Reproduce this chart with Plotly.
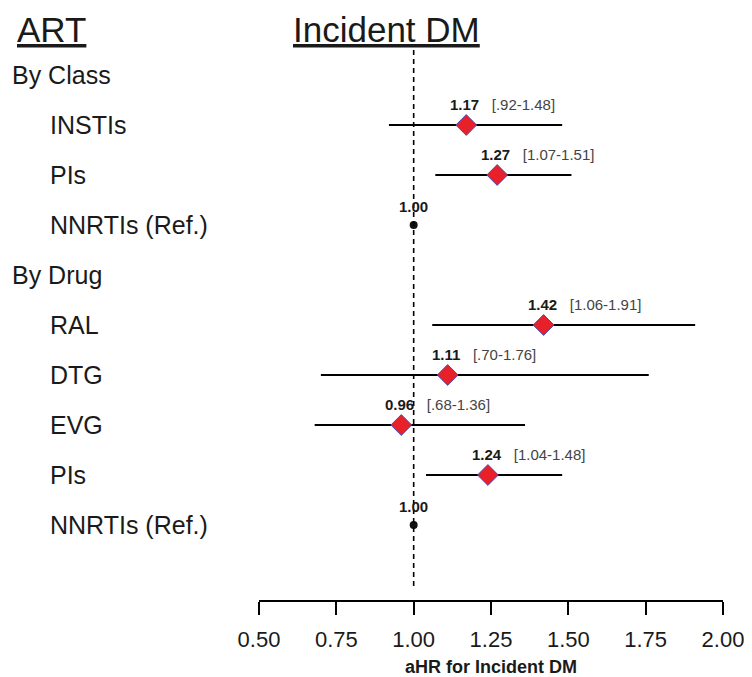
import plotly.graph_objects as go

rows = ["By Class", "INSTIs", "PIs", "NNRTIs (Ref.)", "By Drug",
        "RAL", "DTG", "EVG", "PIs", "NNRTIs (Ref.)"]
is_header = [True, False, False, False, True, False, False, False, False, False]
is_ref = [False, False, False, True, False, False, False, False, False, True]
hr = [None, 1.17, 1.27, 1.00, None, 1.42, 1.11, 0.96, 1.24, 1.00]
lo = [None, 0.92, 1.07, None, None, 1.06, 0.70, 0.68, 1.04, None]
hi = [None, 1.48, 1.51, None, None, 1.91, 1.76, 1.36, 1.48, None]
hr_lbl = ["", "1.17", "1.27", "1.00", "", "1.42", "1.11", "0.96", "1.24", "1.00"]
ci_lbl = ["", "[.92-1.48]", "[1.07-1.51]", "", "", "[1.06-1.91]",
          "[.70-1.76]", "[.68-1.36]", "[1.04-1.48]", ""]
tick_vals = [0.50, 0.75, 1.00, 1.25, 1.50, 1.75, 2.00]
tick_text = ["0.50", "0.75", "1.00", "1.25", "1.50", "1.75", "2.00"]

OFF = 8  # page body margin
W, H = 752 - OFF, 677 - OFF
ML, MR, MT = 259 - OFF, 29, 50 - OFF
PW = W - ML - MR
PH = 550
MB = H - MT - PH

ypos = [-i for i in range(len(rows))]

fig = go.Figure()

# CI lines
cx, cy = [], []
for i in range(len(rows)):
    if lo[i] is not None:
        cx += [lo[i], hi[i], None]
        cy += [ypos[i], ypos[i], None]
fig.add_trace(go.Scatter(x=cx, y=cy, mode="lines",
                         line=dict(color="black", width=1.8),
                         hoverinfo="skip", showlegend=False))

# Estimates (diamonds)
dx = [hr[i] for i in range(len(rows)) if hr[i] is not None and not is_ref[i]]
dy = [ypos[i] for i in range(len(rows)) if hr[i] is not None and not is_ref[i]]
fig.add_trace(go.Scatter(x=dx, y=dy, mode="markers",
                         marker=dict(symbol="diamond", size=16, color="#e8202a",
                                     line=dict(color="#4b4fb4", width=1)),
                         showlegend=False))

# Reference points
rx = [hr[i] for i in range(len(rows)) if is_ref[i]]
ry = [ypos[i] for i in range(len(rows)) if is_ref[i]]
fig.add_trace(go.Scatter(x=rx, y=ry, mode="markers",
                         marker=dict(symbol="circle", size=8, color="#111"),
                         showlegend=False))

# Null line
fig.add_shape(type="line", x0=1, x1=1, xref="x", yref="y", y0=0.5, y1=-10.25,
              line=dict(color="black", width=1.6, dash="5px,4px"))

annotations = []
for i, lab in enumerate(rows):
    xpx = (10 if is_header[i] else 48) - OFF
    annotations.append(dict(text=lab, xref="paper", yref="y",
                            x=(xpx - ML) / PW, y=ypos[i], xanchor="left",
                            yanchor="middle", showarrow=False,
                            font=dict(size=25, color="#1a1a1a")))
    if hr[i] is not None:
        if is_ref[i]:
            annotations.append(dict(text="<b>" + hr_lbl[i] + "</b>", xref="x", yref="y",
                                    x=hr[i], y=ypos[i], xanchor="center",
                                    yanchor="middle", yshift=19, showarrow=False,
                                    font=dict(size=15, color="#1a1a1a")))
        else:
            annotations.append(dict(
                text="<b>" + hr_lbl[i] + "</b>&nbsp;&nbsp; <span style='color:#444'>" + ci_lbl[i] + "</span>",
                xref="x", yref="y", x=hr[i], y=ypos[i], xanchor="left",
                yanchor="middle", xshift=-18, yshift=21, showarrow=False,
                font=dict(size=15, color="#1a1a1a")))

# Headers
top_y = 1 + MT / PH
annotations.append(dict(text="<u>ART</u>", xref="paper", yref="paper",
                        x=(15 - OFF - ML) / PW, y=top_y, xanchor="left",
                        yanchor="top", showarrow=False,
                        font=dict(size=35, color="#1a1a1a")))
annotations.append(dict(text="<u>Incident DM</u>", xref="paper", yref="paper",
                        x=(386 - OFF - ML) / PW, y=top_y, xanchor="center",
                        yanchor="top", showarrow=False,
                        font=dict(size=35, color="#1a1a1a")))

fig.update_layout(
    width=W, height=H,
    margin=dict(l=ML, r=MR, t=MT, b=MB, autoexpand=False),
    plot_bgcolor="white", paper_bgcolor="white",
    font=dict(family="Liberation Sans, Arial, sans-serif", color="#1a1a1a"),
    annotations=annotations,
    xaxis=dict(range=[0.5, 2.0], tickvals=tick_vals, ticktext=tick_text,
               ticks="outside", ticklen=13, tickwidth=1.5, tickcolor="black",
               showline=True, linecolor="black", linewidth=1.5,
               showgrid=False, zeroline=False, ticklabelstandoff=6,
               automargin=False,
               tickfont=dict(size=22, color="#1a1a1a"),
               title=dict(text="<b>aHR for Incident DM</b>", standoff=9,
                          font=dict(size=18, color="#1a1a1a"))),
    yaxis=dict(range=[-10.5, 0.5], visible=False, showgrid=False, zeroline=False,
               automargin=False),
)

fig.write_html("out.html")
